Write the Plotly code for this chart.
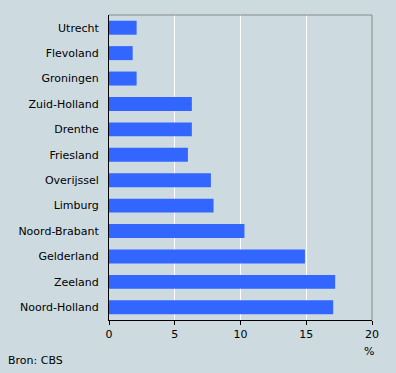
import plotly.graph_objects as go

provinces = ["Utrecht", "Flevoland", "Groningen", "Zuid-Holland", "Drenthe", "Friesland",
             "Overijssel", "Limburg", "Noord-Brabant", "Gelderland", "Zeeland", "Noord-Holland"]
values = [2.1, 1.8, 2.1, 6.3, 6.3, 6.0, 7.75, 7.95, 10.3, 14.9, 17.2, 17.05]
x_ticks = [0, 5, 10, 15, 20]

BG = "#cddbe1"
FONT = "DejaVu Sans"

fig = go.Figure(go.Bar(
    x=values, y=provinces, orientation="h",
    marker=dict(color="#3366ff", line=dict(width=0)),
    width=0.55,
))

fig.update_layout(
    width=396, height=373,
    paper_bgcolor=BG, plot_bgcolor=BG,
    margin=dict(l=109, r=24, t=15, b=53),
    font=dict(family=FONT, size=11, color="#000000"),
    showlegend=False,
    xaxis=dict(
        range=[0, 20], tickvals=x_ticks, ticktext=[str(v) for v in x_ticks],
        showgrid=True, gridcolor="#ffffff", gridwidth=1,
        zeroline=False, showline=True, linecolor="#000000", linewidth=1,
        ticks="outside", ticklen=4, tickcolor="#000000",
        tickfont=dict(family=FONT, size=11),
        mirror=False, fixedrange=True,
    ),
    yaxis=dict(
        autorange="reversed", categoryorder="array", categoryarray=provinces,
        showgrid=False, zeroline=False, showline=True, linecolor="#000000", linewidth=1,
        ticks="", ticklabelstandoff=7,
        tickfont=dict(family=FONT, size=11),
        fixedrange=True,
    ),
    shapes=[
        dict(type="line", xref="paper", yref="paper", x0=0, x1=1, y0=1, y1=1,
             line=dict(color="#888888", width=1)),
        dict(type="line", xref="paper", yref="paper", x0=1, x1=1, y0=0, y1=1,
             line=dict(color="#888888", width=1)),
    ],
    annotations=[
        dict(text="%", xref="paper", yref="paper", x=1, y=0, xshift=-3, yshift=-31,
             xanchor="center", yanchor="middle", showarrow=False,
             font=dict(family=FONT, size=11)),
        dict(text="Bron: CBS", xref="paper", yref="paper", x=-109/263, y=0, xshift=6,
             yshift=-40, xanchor="left", yanchor="middle", showarrow=False,
             font=dict(family=FONT, size=11)),
    ],
)

fig.write_html(
    "out.html",
    config={"displayModeBar": False},
    post_script="document.body.style.margin='0';document.body.style.padding='0';",
)
